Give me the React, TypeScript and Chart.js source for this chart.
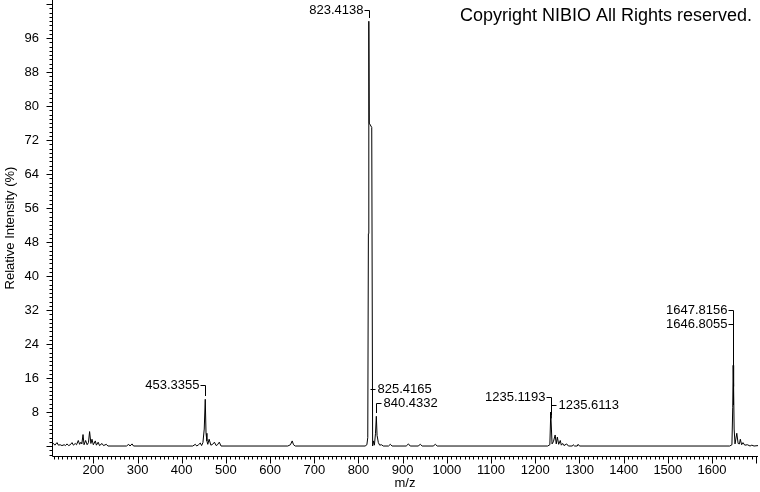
import React, { useEffect, useRef } from 'react';
import { Chart, registerables } from 'chart.js';

Chart.register(...registerables);

// Spectrum profile (m/z, relative intensity %)
const mzValues = [
  107, 110, 113, 117.9, 121, 125, 129, 134, 137, 140.5, 144, 148, 151.8, 155, 159, 162, 166, 169, 172, 174,
  176.7, 179, 182.6, 186, 189, 191.6, 194.5, 197, 200, 204.5, 207, 211, 214, 219.7, 223, 229.4, 233,
  275, 280, 283, 287.6, 291,
  425, 430.8, 434, 438, 442, 445, 448, 451, 453.3, 455, 457, 459, 462, 466, 470, 474, 478, 481, 485, 489,
  640, 646, 650, 653, 657,
  815, 819, 821, 822.4, 823.4, 824.4, 830, 832, 834, 836, 838.5, 840.4, 842, 845, 848, 852, 856,
  868, 872, 876, 908, 913, 917, 935, 940, 944, 969, 974, 978,
  1228, 1233, 1235.1, 1235.6, 1236.6, 1238, 1241, 1245, 1247.5, 1250, 1253, 1256.6, 1259, 1262, 1265,
  1271, 1275, 1284, 1286, 1289, 1295, 1297, 1300,
  1640, 1645, 1646.8, 1647.8, 1648.8, 1650, 1652, 1656, 1659, 1662, 1664, 1667, 1670, 1674, 1680, 1686,
  1690, 1695, 1704,
];
const intensityValues = [
  0.3, 0.6, 0.2, 0.8, 0.2, 0.3, 0.1, 0.3, 0.1, 0.5, 0.1, 0.3, 0.8, 0.2, 0.6, 0.3, 1.3, 0.4, 0.9, 0.5,
  2.7, 0.3, 1.3, 0.3, 0.8, 3.4, 0.6, 1.6, 0.3, 1.2, 0.2, 0.9, 0.1, 0.6, 0.1, 0.4, 0,
  0, 0.4, 0, 0.5, 0,
  0, 0.4, 0, 0.3, 0.7, 0.1, 0.8, 4, 11, 3, 1.2, 0.4, 1.6, 0.2, 0.4, 0.9, 0.1, 0.3, 0.9, 0,
  0, 0.3, 1.2, 0.3, 0,
  0, 0.3, 2, 50, 100, 76, 75, 0, 1.2, 0.2, 3, 7, 2.5, 0.8, 0.2, 0.3, 0,
  0, 0.4, 0, 0, 0.5, 0, 0, 0.4, 0, 0, 0.4, 0,
  0, 0.3, 8, 6.5, 4, 0.5, 1, 2.6, 0.5, 2.1, 0.4, 1.3, 0.2, 0.6, 0.1,
  0.5, 0, 0, 0.3, 0, 0, 0.4, 0,
  0, 0.3, 9, 19, 14, 4, 0.5, 3, 0.6, 0.5, 1.6, 0.3, 0.8, 0.2, 0.3, 0,
  0.2, 0, 0.1,
];

const xTickValues = [200, 300, 400, 500, 600, 700, 800, 900, 1000, 1100, 1200, 1300, 1400, 1500, 1600];
const yTickValues = [8, 16, 24, 32, 40, 48, 56, 64, 72, 80, 88, 96];

// Peak annotations
const peakLabelMz = [823.4138, 453.3355, 825.4165, 840.4332, 1235.1193, 1235.6113, 1647.8156, 1646.8055];
const peakLabelText = ['823.4138', '453.3355', '825.4165', '840.4332', '1235.1193', '1235.6113', '1647.8156', '1646.8055'];
const peakLabelSide = ['left', 'left', 'right', 'right', 'left', 'right', 'left', 'left'];
const peakLabelLevel = [102.6, 14.4, 13.4, 10.1, 11.5, 9.6, 32.0, 28.7];

const X_MIN = 106.5;
const X_MAX = 1704;
const Y_MIN = -2.35;
const Y_MAX = 105;

const FONT = '"Liberation Sans", Arial, sans-serif';
const copyrightText = 'Copyright NIBIO All Rights reserved.';

const decorPlugin = {
  id: 'decor',
  afterDraw(chart: any) {
    const { ctx, chartArea } = chart;
    const xs = chart.scales.x;
    const ys = chart.scales.y;
    ctx.save();
    ctx.strokeStyle = '#000';
    ctx.lineWidth = 1;
    const axY = Math.round(chartArea.bottom) + 0.5;
    const axX = Math.round(chartArea.left) + 0.5;
    ctx.beginPath();
    ctx.moveTo(axX, 0);
    ctx.lineTo(axX, axY);
    ctx.lineTo(chartArea.right, axY);
    for (let v = 110; v <= 1700; v += 10) {
      const px = Math.round(xs.getPixelForValue(v)) + 0.5;
      const len = v % 100 === 0 ? 7 : 3;
      ctx.moveTo(px, axY);
      ctx.lineTo(px, axY + len);
    }
    for (let v = -2; v <= 104; v += 1) {
      const py = Math.round(ys.getPixelForValue(v)) + 0.5;
      const len = v % 8 === 0 ? 6 : 3;
      ctx.moveTo(axX, py);
      ctx.lineTo(axX - len, py);
    }
    ctx.stroke();

    // peak labels with leaders
    ctx.font = '13px ' + FONT;
    ctx.fillStyle = '#000';
    ctx.textBaseline = 'middle';
    peakLabelMz.forEach((m, i) => {
      let best = 0;
      for (let k = 1; k < mzValues.length; k++) {
        if (Math.abs(mzValues[k] - m) < Math.abs(mzValues[best] - m)) best = k;
      }
      const px = Math.round(xs.getPixelForValue(m)) + 0.5;
      const ly = Math.round(ys.getPixelForValue(peakLabelLevel[i])) + 0.5;
      const top = Math.round(ys.getPixelForValue(intensityValues[best]));
      const left = peakLabelSide[i] === 'left';
      ctx.beginPath();
      if (left) {
        ctx.moveTo(px - 5, ly);
        ctx.lineTo(px, ly);
      } else {
        ctx.moveTo(px, ly);
        ctx.lineTo(px + 5, ly);
      }
      if (top - 3 > ly) {
        ctx.moveTo(px, ly);
        ctx.lineTo(px, top - 3);
      }
      ctx.stroke();
      ctx.textAlign = left ? 'right' : 'left';
      ctx.fillText(peakLabelText[i], left ? px - 6 : px + 7, ly);
    });

    ctx.font = '18px ' + FONT;
    ctx.textAlign = 'right';
    ctx.textBaseline = 'alphabetic';
    ctx.fillText(copyrightText, 752, 21);
    ctx.restore();
  },
};

export default function App() {
  const canvasRef = useRef<HTMLCanvasElement | null>(null);

  useEffect(() => {
    const canvas = canvasRef.current;
    if (!canvas) return;
    const points = mzValues.map((m, i) => ({ x: m, y: intensityValues[i] }));
    const chart = new Chart(canvas, {
      type: 'line',
      data: {
        datasets: [
          {
            data: points,
            borderColor: '#000',
            borderWidth: 1,
            pointRadius: 0,
            tension: 0,
            fill: false,
          },
        ],
      },
      options: {
        responsive: false,
        animation: false,
        events: [],
        layout: { padding: { top: 0, right: 2, left: 0, bottom: 0 } },
        plugins: { legend: { display: false }, tooltip: { enabled: false } },
        scales: {
          x: {
            type: 'linear',
            min: X_MIN,
            max: X_MAX,
            afterBuildTicks: (s: any) => {
              s.ticks = xTickValues.map((v) => ({ value: v }));
            },
            afterFit: (s: any) => {
              s.height = 36;
              s.paddingLeft = 0;
              s.paddingRight = 0;
            },
            grid: { display: false, drawTicks: false },
            border: { display: false },
            ticks: {
              autoSkip: false,
              maxRotation: 0,
              padding: 7,
              color: '#000',
              font: { family: FONT, size: 13 },
              callback: (v: any) => String(v),
            },
            title: {
              display: true,
              text: 'm/z',
              color: '#000',
              font: { family: FONT, size: 13 },
              padding: { top: 0, bottom: 1 },
            },
          },
          y: {
            type: 'linear',
            min: Y_MIN,
            max: Y_MAX,
            afterBuildTicks: (s: any) => {
              s.ticks = yTickValues.map((v) => ({ value: v }));
            },
            afterFit: (s: any) => {
              s.width = 52;
              s.paddingTop = 0;
              s.paddingBottom = 0;
            },
            grid: { display: false, drawTicks: false },
            border: { display: false },
            ticks: {
              autoSkip: false,
              padding: 13,
              color: '#000',
              font: { family: FONT, size: 13 },
              callback: (v: any) => String(v),
            },
            title: {
              display: true,
              text: 'Relative Intensity (%)',
              color: '#000',
              font: { family: FONT, size: 13 },
              padding: { top: 3, bottom: 0 },
            },
          },
        },
      },
      plugins: [decorPlugin],
    });
    return () => chart.destroy();
  }, []);

  return (
    <div style={{ position: 'fixed', left: 0, top: 0, width: 760, height: 492, background: '#fff' }}>
      <canvas ref={canvasRef} width={760} height={492} style={{ display: 'block' }} />
    </div>
  );
}
